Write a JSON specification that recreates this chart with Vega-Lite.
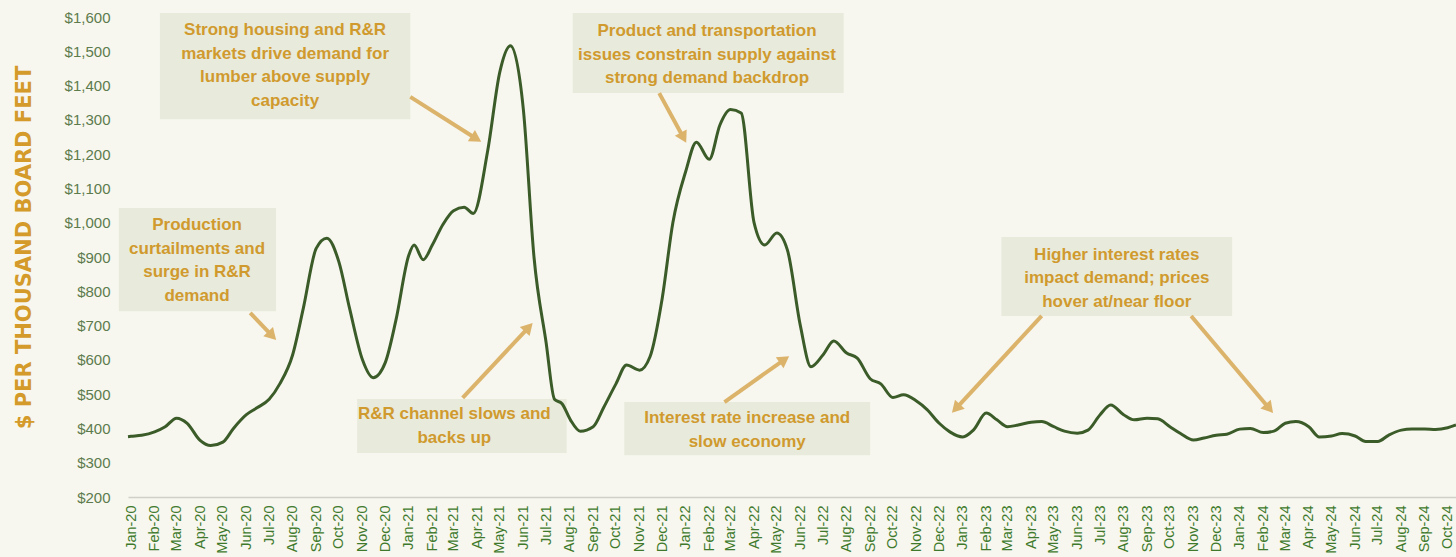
{
  "$schema": "https://vega.github.io/schema/vega-lite/v6.json",
  "width": 1328,
  "height": 480,
  "autosize": "none",
  "padding": {"left": 128, "top": 17, "right": 0, "bottom": 60},
  "background": "#f7f7ef",
  "config": {"view": {"stroke": null}},
  "datasets": {
    "price": [
      {"d": "2019-12-28", "p": 376}, {"d": "2020-01-01", "p": 377}, {"d": "2020-01-15", "p": 380},
      {"d": "2020-02-01", "p": 390}, {"d": "2020-02-15", "p": 405}, {"d": "2020-03-01", "p": 430},
      {"d": "2020-03-15", "p": 415}, {"d": "2020-04-01", "p": 365}, {"d": "2020-04-15", "p": 350},
      {"d": "2020-05-01", "p": 360}, {"d": "2020-05-15", "p": 400}, {"d": "2020-06-01", "p": 440},
      {"d": "2020-06-15", "p": 460}, {"d": "2020-07-01", "p": 485}, {"d": "2020-07-15", "p": 530},
      {"d": "2020-08-01", "p": 615}, {"d": "2020-08-15", "p": 750}, {"d": "2020-09-01", "p": 925},
      {"d": "2020-09-15", "p": 955}, {"d": "2020-10-01", "p": 885}, {"d": "2020-10-15", "p": 750},
      {"d": "2020-11-01", "p": 600}, {"d": "2020-11-15", "p": 548}, {"d": "2020-12-01", "p": 592},
      {"d": "2020-12-15", "p": 715}, {"d": "2021-01-01", "p": 905}, {"d": "2021-01-08", "p": 935},
      {"d": "2021-01-20", "p": 892}, {"d": "2021-02-01", "p": 935},
      {"d": "2021-02-15", "p": 995}, {"d": "2021-03-01", "p": 1035},
      {"d": "2021-03-15", "p": 1045}, {"d": "2021-03-27", "p": 1027}, {"d": "2021-04-15", "p": 1210},
      {"d": "2021-05-01", "p": 1440}, {"d": "2021-05-15", "p": 1516}, {"d": "2021-06-01", "p": 1330},
      {"d": "2021-06-15", "p": 900}, {"d": "2021-07-01", "p": 650}, {"d": "2021-07-12", "p": 485},
      {"d": "2021-07-22", "p": 472}, {"d": "2021-08-02", "p": 425}, {"d": "2021-08-15", "p": 392},
      {"d": "2021-09-01", "p": 405},
      {"d": "2021-09-15", "p": 462}, {"d": "2021-10-01", "p": 530}, {"d": "2021-10-15", "p": 585},
      {"d": "2021-11-01", "p": 570}, {"d": "2021-11-15", "p": 610}, {"d": "2021-12-01", "p": 780},
      {"d": "2021-12-15", "p": 1000}, {"d": "2022-01-01", "p": 1150}, {"d": "2022-01-15", "p": 1235},
      {"d": "2022-02-01", "p": 1185}, {"d": "2022-02-15", "p": 1285}, {"d": "2022-03-01", "p": 1330},
      {"d": "2022-03-15", "p": 1320}, {"d": "2022-04-01", "p": 1000}, {"d": "2022-04-15", "p": 935},
      {"d": "2022-05-01", "p": 970}, {"d": "2022-05-15", "p": 920}, {"d": "2022-06-01", "p": 700},
      {"d": "2022-06-15", "p": 580}, {"d": "2022-07-01", "p": 615}, {"d": "2022-07-15", "p": 655},
      {"d": "2022-08-01", "p": 620}, {"d": "2022-08-15", "p": 605}, {"d": "2022-09-01", "p": 545},
      {"d": "2022-09-15", "p": 530}, {"d": "2022-10-01", "p": 490}, {"d": "2022-10-15", "p": 498},
      {"d": "2022-11-01", "p": 480}, {"d": "2022-11-15", "p": 455}, {"d": "2022-12-01", "p": 415},
      {"d": "2022-12-15", "p": 390}, {"d": "2023-01-01", "p": 375}, {"d": "2023-01-15", "p": 395},
      {"d": "2023-02-01", "p": 445}, {"d": "2023-02-15", "p": 425}, {"d": "2023-03-01", "p": 405},
      {"d": "2023-03-15", "p": 410}, {"d": "2023-04-01", "p": 418}, {"d": "2023-04-15", "p": 420},
      {"d": "2023-05-01", "p": 405}, {"d": "2023-05-15", "p": 392}, {"d": "2023-06-01", "p": 386},
      {"d": "2023-06-15", "p": 395}, {"d": "2023-07-01", "p": 440}, {"d": "2023-07-15", "p": 468},
      {"d": "2023-08-01", "p": 440}, {"d": "2023-08-15", "p": 425}, {"d": "2023-09-01", "p": 430},
      {"d": "2023-09-15", "p": 428}, {"d": "2023-10-01", "p": 405}, {"d": "2023-10-15", "p": 385},
      {"d": "2023-11-01", "p": 366}, {"d": "2023-11-15", "p": 372}, {"d": "2023-12-01", "p": 380},
      {"d": "2023-12-15", "p": 383}, {"d": "2024-01-01", "p": 398}, {"d": "2024-01-15", "p": 400},
      {"d": "2024-02-01", "p": 388}, {"d": "2024-02-15", "p": 392}, {"d": "2024-03-01", "p": 415},
      {"d": "2024-03-15", "p": 420}, {"d": "2024-04-01", "p": 405}, {"d": "2024-04-15", "p": 375},
      {"d": "2024-05-01", "p": 378}, {"d": "2024-05-15", "p": 385}, {"d": "2024-06-01", "p": 378},
      {"d": "2024-06-15", "p": 362}, {"d": "2024-07-01", "p": 362}, {"d": "2024-07-15", "p": 380},
      {"d": "2024-08-01", "p": 395}, {"d": "2024-08-15", "p": 398}, {"d": "2024-09-01", "p": 398},
      {"d": "2024-09-15", "p": 397}, {"d": "2024-10-01", "p": 402}, {"d": "2024-10-12", "p": 410}
    ],
    "boxes": [
      {"id": "strong", "d": "2020-02-08", "d2": "2021-01-03", "p": 1612, "p2": 1302},
      {"id": "production", "d": "2019-12-16", "d2": "2020-07-10", "p": 1043, "p2": 742},
      {"id": "rr", "d": "2020-10-25", "d2": "2021-07-28", "p": 486, "p2": 328},
      {"id": "product", "d": "2021-08-05", "d2": "2022-07-28", "p": 1612, "p2": 1378},
      {"id": "interest", "d": "2021-10-12", "d2": "2022-09-01", "p": 477, "p2": 322},
      {"id": "higher", "d": "2023-02-21", "d2": "2023-12-22", "p": 958, "p2": 728}
    ],
    "notes": [
      {"id": "strong", "d": "2020-07-22", "p": 1562, "t": "Strong housing and R&R\nmarkets drive demand for\nlumber above supply\ncapacity"},
      {"id": "production", "d": "2020-03-28", "p": 993, "t": "Production\ncurtailments and\nsurge in R&R\ndemand"},
      {"id": "rr", "d": "2021-03-02", "p": 442, "t": "R&R channel slows and\nbacks up"},
      {"id": "product", "d": "2022-01-29", "p": 1559, "t": "Product and transportation\nissues constrain supply against\nstrong demand backdrop"},
      {"id": "interest", "d": "2022-03-23", "p": 430, "t": "Interest rate increase and\nslow economy"},
      {"id": "higher", "d": "2023-07-23", "p": 906, "t": "Higher interest rates\nimpact demand; prices\nhover at/near floor"}
    ],
    "arrows": [
      {"id": "a", "d": "2021-01-03", "p": 1367, "d2": "2021-03-31", "p2": 1245},
      {"id": "b", "d": "2020-06-06", "p": 737, "d2": "2020-07-05", "p2": 670},
      {"id": "c", "d": "2021-03-13", "p": 489, "d2": "2021-06-08", "p2": 695},
      {"id": "d", "d": "2021-11-27", "p": 1378, "d2": "2021-12-29", "p2": 1248},
      {"id": "e", "d": "2022-02-21", "p": 477, "d2": "2022-05-11", "p2": 601},
      {"id": "f", "d": "2023-04-15", "p": 728, "d2": "2022-12-23", "p2": 458},
      {"id": "g", "d": "2023-10-29", "p": 728, "d2": "2024-02-09", "p2": 458}
    ]
  },
  "encoding": {
    "x": {
      "field": "d", "type": "temporal",
      "scale": {"type": "utc", "domain": [{"year": 2019, "month": 12, "date": 28, "utc": true}, {"year": 2024, "month": 10, "date": 12, "utc": true}]},
      "axis": {
        "title": null, "format": "%b-%y", "tickCount": {"interval": "month", "step": 1},
        "labelAngle": -90, "labelOverlap": false, "labelBound": false, "labelFlush": false,
        "ticks": false, "grid": false, "domain": true, "domainColor": "#cfd0c8", "domainWidth": 1.5,
        "labelPadding": 8, "labelFont": "Liberation Sans, Arial", "labelFontSize": 14.5,
        "labelColor": "#3f7a2c"
      }
    },
    "y": {
      "field": "p", "type": "quantitative",
      "scale": {"domain": [200, 1600], "nice": false, "zero": false},
      "axis": {
        "title": "$ PER THOUSAND BOARD FEET", "values": [200, 300, 400, 500, 600, 700, 800, 900, 1000, 1100, 1200, 1300, 1400, 1500, 1600],
        "format": "$,.0f", "ticks": false, "grid": false, "domain": false, "labelPadding": 18,
        "labelFont": "Liberation Sans, Arial", "labelFontSize": 15, "labelColor": "#5d7b4d",
        "titleFont": "DejaVu Sans", "titleFontWeight": "bold", "titleFontSize": 21, "titleColor": "#d49a2a",
        "titleX": -98, "titleY": 230, "titleAngle": -90, "titleAlign": "center", "titleBaseline": "alphabetic"
      }
    }
  },
  "layer": [
    {
      "data": {"name": "boxes"},
      "mark": {"type": "rect", "color": "#e8eadb"},
      "encoding": {"x2": {"field": "d2"}, "y2": {"field": "p2"}}
    },
    {
      "data": {"name": "arrows"},
      "mark": {"type": "rule", "color": "#dcb36b", "strokeWidth": 4},
      "encoding": {"x2": {"field": "d2"}, "y2": {"field": "p2"}}
    },
    {"data": {"values": [{"d": "2021-03-31", "p": 1245}]}, "mark": {"type": "point", "shape": "triangle-up", "filled": true, "opacity": 1, "size": 180, "color": "#dcb36b", "angle": 122}},
    {"data": {"values": [{"d": "2020-07-05", "p": 670}]}, "mark": {"type": "point", "shape": "triangle-up", "filled": true, "opacity": 1, "size": 180, "color": "#dcb36b", "angle": 136}},
    {"data": {"values": [{"d": "2021-06-08", "p": 695}]}, "mark": {"type": "point", "shape": "triangle-up", "filled": true, "opacity": 1, "size": 180, "color": "#dcb36b", "angle": 43}},
    {"data": {"values": [{"d": "2021-12-29", "p": 1248}]}, "mark": {"type": "point", "shape": "triangle-up", "filled": true, "opacity": 1, "size": 180, "color": "#dcb36b", "angle": 152}},
    {"data": {"values": [{"d": "2022-05-11", "p": 601}]}, "mark": {"type": "point", "shape": "triangle-up", "filled": true, "opacity": 1, "size": 180, "color": "#dcb36b", "angle": 55}},
    {"data": {"values": [{"d": "2022-12-23", "p": 458}]}, "mark": {"type": "point", "shape": "triangle-up", "filled": true, "opacity": 1, "size": 180, "color": "#dcb36b", "angle": 223}},
    {"data": {"values": [{"d": "2024-02-09", "p": 458}]}, "mark": {"type": "point", "shape": "triangle-up", "filled": true, "opacity": 1, "size": 180, "color": "#dcb36b", "angle": 140}},
    {
      "data": {"name": "price"},
      "mark": {"type": "line", "color": "#3b5c29", "strokeWidth": 3, "interpolate": "monotone"}
    },
    {
      "data": {"name": "notes"},
      "mark": {"type": "text", "lineBreak": "\n", "align": "center", "baseline": "middle", "font": "Liberation Sans, Arial", "fontWeight": "bold", "fontSize": 17, "lineHeight": 23.5, "color": "#d09a2e"},
      "encoding": {"text": {"field": "t"}}
    }
  ]
}
